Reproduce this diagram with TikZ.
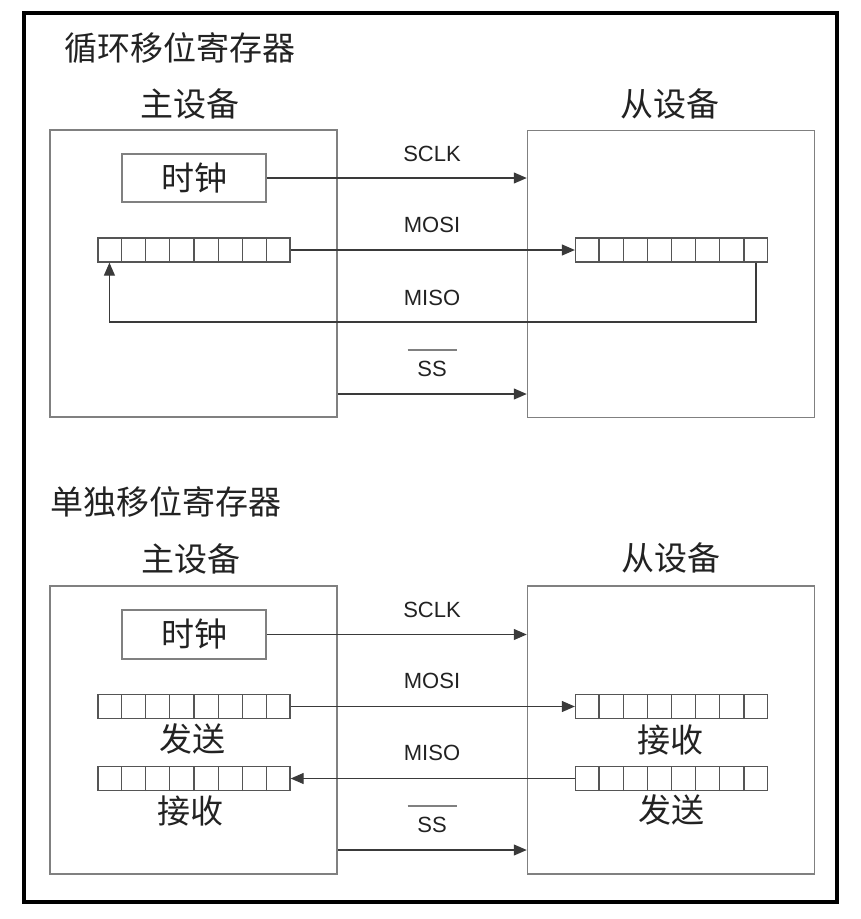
\documentclass[tikz,border=0pt]{standalone}
\usepackage{fontspec}
\setmainfont{Liberation Sans}
\newfontfamily\cjk{Noto Sans CJK SC}
\usetikzlibrary{arrows.meta,calc}
\definecolor{boxgray}{HTML}{808080}
\definecolor{reggray}{HTML}{555555}
\definecolor{linegray}{HTML}{3A3A3A}
\definecolor{txt}{HTML}{222222}
\newcommand\regcells[1]{\foreach \i in {1,...,7}{\draw[cell] ($(#1.south west)!\i/8!(#1.south east)$) -- ($(#1.north west)!\i/8!(#1.north east)$);}}
\begin{document}
\begin{tikzpicture}[x=1pt,y=-1pt,
  devbox/.style={draw=boxgray,line width=1.5pt,minimum width=287pt,minimum height=287pt,inner sep=0pt},
  clkbox/.style={draw=boxgray,line width=1.5pt,minimum width=144pt,minimum height=48pt,inner sep=0pt,font=\cjk\fontsize{33}{36}\selectfont,text=txt},
  reg/.style={draw=reggray,line width=1.3pt,minimum width=192pt,minimum height=24pt,inner sep=0pt},
  cell/.style={draw=reggray,line width=1.1pt},
  conn/.style={draw=linegray,line width=1.2pt},
  arr/.style={conn,-{Triangle[length=13pt,width=11pt]}},
  lab/.style={font=\fontsize{22}{24}\selectfont,text=txt,inner sep=0pt},
  cjklab/.style={font=\cjk\fontsize{33}{36}\selectfont,text=txt,inner sep=0pt},
  overl/.style={draw=boxgray,line width=1.5pt}]
\useasboundingbox (0,0) rectangle (861,919);
\draw[line width=4pt] (24,13) rectangle (837,902);

% ---------- top: circular shift register ----------
\node[cjklab,anchor=west] (t1) at (64,48) {循环移位寄存器};
\node[cjklab] (m1t) at (190,104) {主设备};
\node[cjklab] (s1t) at (670,104) {从设备};
\node[devbox] (m1) at (193.5,273.5) {};
\node[devbox] (s1) at (671,274) {};
\node[clkbox] (c1) at (194,178) {时钟};
\node[reg] (mr1) at (194,250) {};
\node[reg] (sr1) at (671.5,250) {};
\regcells{mr1}
\regcells{sr1}
\draw[arr] (c1.east) -- (c1.east -| s1.west);
\draw[arr] (mr1.east) -- (sr1.west);
\coordinate (misoy) at (0,322);
\coordinate (mb1) at ($(mr1.south west)!1/16!(mr1.south east)$);
\coordinate (sb1) at ($(sr1.south west)!15/16!(sr1.south east)$);
\draw[arr] (sb1) -- (sb1 |- misoy) -- (mb1 |- misoy) -- (mb1);
\coordinate (ssy1) at (0,394);
\draw[arr] (m1.east |- ssy1) -- (s1.west |- ssy1);
\node[lab] (sclk1) at (432,154) {SCLK};
\node[lab] (mosi1) at (432,225) {MOSI};
\node[lab] (miso1) at (432,298) {MISO};
\node[lab] (ss1) at (432,369) {SS};
\draw[overl] ($(ss1.north)+(-24.5,-11)$) -- ++(49,0);

% ---------- bottom: separate shift registers ----------
\node[cjklab,anchor=west] (t2) at (50,502) {单独移位寄存器};
\node[cjklab] (m2t) at (191,559) {主设备};
\node[cjklab] (s2t) at (671,558) {从设备};
\node[devbox,minimum height=288pt] (m2) at (193.5,730) {};
\node[devbox,minimum height=288pt] (s2) at (671,730) {};
\node[clkbox,minimum height=49pt] (c2) at (194,634.5) {时钟};
\node[reg] (mtx) at (194,706.5) {};
\node[reg] (mrx) at (194,778.5) {};
\node[reg] (srx) at (671.5,706.5) {};
\node[reg] (stx) at (671.5,778.5) {};
\regcells{mtx}
\regcells{mrx}
\regcells{srx}
\regcells{stx}
\node[cjklab] (mtxl) at (192,739) {发送};
\node[cjklab] (mrxl) at (190,811) {接收};
\node[cjklab] (srxl) at (670,740) {接收};
\node[cjklab] (stxl) at (671,810) {发送};
\draw[arr] (c2.east) -- (c2.east -| s2.west);
\draw[arr] (mtx.east) -- (srx.west);
\draw[arr] (stx.west) -- (mrx.east);
\coordinate (ssy2) at (0,850);
\draw[arr] (m2.east |- ssy2) -- (s2.west |- ssy2);
\node[lab] (sclk2) at (432,610) {SCLK};
\node[lab] (mosi2) at (432,681) {MOSI};
\node[lab] (miso2) at (432,753) {MISO};
\node[lab] (ss2) at (432,825) {SS};
\draw[overl] ($(ss2.north)+(-24.5,-11)$) -- ++(49,0);
\end{tikzpicture}
\end{document}
